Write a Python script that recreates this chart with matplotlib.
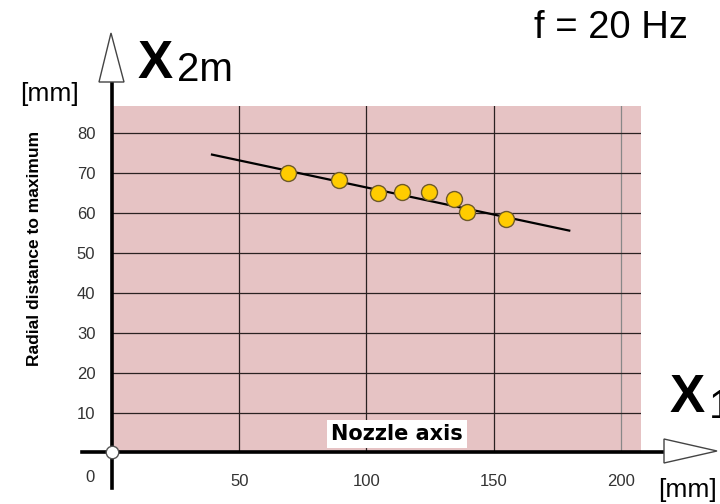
import matplotlib.pyplot as plt
from matplotlib.patches import Polygon

# measured points (distance along nozzle axis, radial distance to maximum), mm
x_pts = [69.2, 89.2, 104.4, 114.1, 124.6, 134.4, 139.4, 154.7]
y_pts = [70.0, 68.2, 65.1, 65.2, 65.3, 63.4, 60.3, 58.4]

# regression line end points
fit_x = [39.3, 179.7]
fit_y = [74.6, 55.6]

x_ticks = [50, 100, 150, 200]
y_ticks = [10, 20, 30, 40, 50, 60, 70, 80]

W, H = 720, 504
fig = plt.figure(figsize=(7.2, 5.04), dpi=100)


def px(x, y):
    # pixel position -> figure fraction
    return x / W, 1 - y / H


# axes placed over the pink plotting area
ax = fig.add_axes([112 / W, (H - 453) / H, (641 - 112) / W, (453 - 106) / H])
ax.set_xlim(0, 207.9)
ax.set_ylim(0, 86.75)
ax.set_facecolor('#e6c3c4')
for s in ax.spines.values():
    s.set_visible(False)

for xv in x_ticks:
    ax.axvline(xv, color='#888888' if xv == 200 else '#2a2222', lw=0.9, zorder=1)
for yv in y_ticks:
    ax.axhline(yv, color='#2a2222', lw=0.9, zorder=1)

ax.set_xticks(x_ticks)
ax.set_xticklabels([str(v) for v in x_ticks], family='Liberation Sans')
ax.set_yticks(y_ticks)
ax.set_yticklabels([str(v) for v in y_ticks], family='Liberation Sans')
ax.tick_params(length=0, labelsize=12, labelcolor='#333333')
ax.tick_params(axis='x', pad=15)
ax.tick_params(axis='y', pad=12)

ax.plot(fit_x, fit_y, color='black', lw=1.6, zorder=3)
ax.plot(x_pts, y_pts, 'o', ms=11.5, mfc='#ffcc00', mec='#6e5a2a', mew=1.0, zorder=4)

# "Nozzle axis" label box
fig.text(*px(397, 434), 'Nozzle axis', ha='center', va='center',
         fontsize=15, fontweight='bold', family='DejaVu Sans',
         bbox=dict(boxstyle='square,pad=0.2', fc='white', ec='none'), zorder=5)

# axis lines with hollow arrow heads
fig.add_artist(plt.Line2D([112 / W, 112 / W], [1 - 488 / H, 1 - 82 / H],
                          color='black', lw=2.6, transform=fig.transFigure, zorder=6))
fig.add_artist(plt.Line2D([82 / W, 664 / W], [1 - 452 / H, 1 - 452 / H],
                          color='black', lw=2.6, transform=fig.transFigure, zorder=6))
fig.add_artist(Polygon([px(99, 82), px(124, 82), px(111, 33)], closed=True,
                       fc='white', ec='#444444', lw=1.0, transform=fig.transFigure, zorder=7))
fig.add_artist(Polygon([px(664, 439), px(664, 463), px(717, 451)], closed=True,
                       fc='white', ec='#444444', lw=1.0, transform=fig.transFigure, zorder=7))
# origin circle
ox, oy = px(112, 452)
fig.add_artist(plt.Line2D([ox], [oy], marker='o', ms=9, mfc='white', mec='#555555',
                          mew=1.0, transform=fig.transFigure, zorder=8))

# texts
fig.text(*px(90, 478), '0', ha='center', va='center', fontsize=12, color='#333333',
         family='Liberation Sans')
fig.text(*px(138, 78), 'X', ha='left', va='baseline', fontsize=38, fontweight='bold',
         family='Liberation Sans')
fig.text(*px(177, 81), '2m', ha='left', va='baseline', fontsize=29, family='Liberation Sans')
fig.text(*px(670, 412), 'X', ha='left', va='baseline', fontsize=38, fontweight='bold',
         family='Liberation Sans')
fig.text(*px(709, 418), '1', ha='left', va='baseline', fontsize=29, family='Liberation Sans')
fig.text(*px(50, 94), '[mm]', ha='center', va='center', fontsize=19, family='Liberation Sans')
fig.text(*px(688, 490), '[mm]', ha='center', va='center', fontsize=19, family='Liberation Sans')
fig.text(*px(611, 28), 'f = 20 Hz', ha='center', va='center', fontsize=27.5, family='Liberation Sans')
fig.text(*px(35, 248), 'Radial distance to maximum', ha='center', va='center',
         rotation=90, fontsize=12.5, fontweight='bold', family='Liberation Sans')

fig.savefig('out.png', dpi=100)
